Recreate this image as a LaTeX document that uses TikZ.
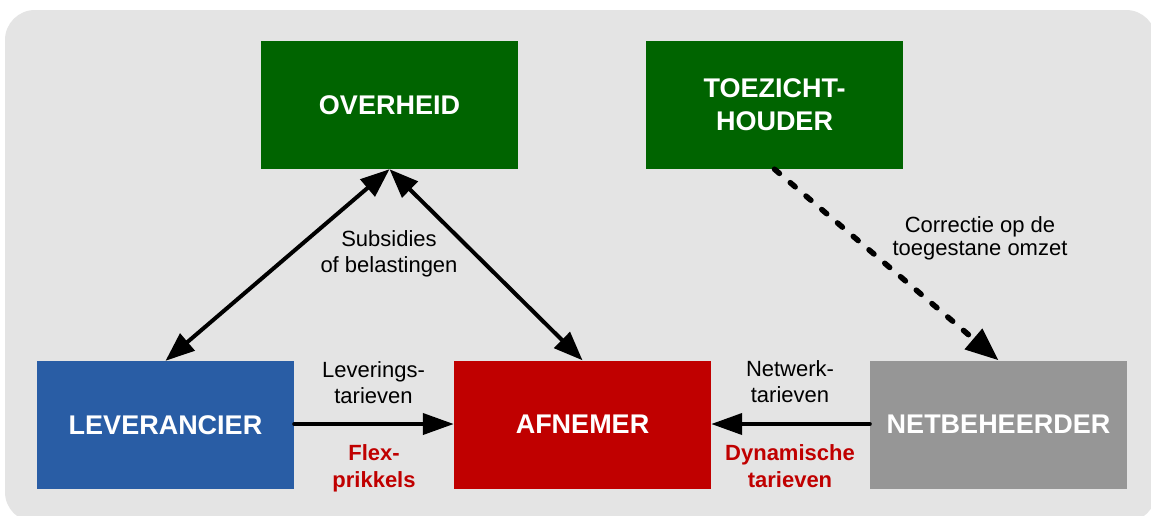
\documentclass[tikz,border=0pt]{standalone}
\usepackage{fontspec}
\setmainfont{Liberation Sans}
\usetikzlibrary{arrows.meta}
\definecolor{panelgray}{HTML}{E4E4E4}
\definecolor{govgreen}{HTML}{006400}
\definecolor{supblue}{HTML}{295DA5}
\definecolor{custred}{HTML}{C00000}
\definecolor{netgray}{HTML}{969696}
\tikzset{
  actor/.style={minimum width=257pt, minimum height=128pt, inner sep=0pt,
    text=white, align=center, font=\fontsize{27pt}{33pt}\selectfont\bfseries},
  lbl/.style={align=center, inner sep=0pt, text=black,
    font=\fontsize{22pt}{26pt}\selectfont},
  redlbl/.style={align=center, inner sep=0pt, text=custred,
    font=\fontsize{22pt}{27pt}\selectfont\bfseries},
  flow/.style={line width=4pt, line cap=round,
    -{Triangle[length=31pt,width=21pt]}},
  twoway/.style={line width=4pt,
    {Triangle[length=29pt,width=22pt]}-{Triangle[length=29pt,width=22pt]}},
  oversight/.style={line width=5.5pt, line cap=round,
    dash pattern=on 6.5pt off 14.2pt,
    -{Triangle[length=33pt,width=26pt]}}
}
\begin{document}
\begin{tikzpicture}[x=1pt, y=-1pt]
  \useasboundingbox (0,0) rectangle (1151,515);
  \fill[white] (0,0) rectangle (1151,515);
  \begin{scope}
    \clip (0,0) rectangle (1151,515);
    \fill[panelgray, rounded corners=30pt] (5,10) rectangle (1156,522);
  \end{scope}

  % actors
  \node[actor, fill=govgreen] (ovh) at (389.5,105) {OVERHEID};
  \node[actor, fill=govgreen] (toe) at (774.5,105) {TOEZICHT-\\HOUDER};
  \node[actor, fill=supblue]  (lev) at (165.5,425) {LEVERANCIER};
  \node[actor, fill=custred]  (afn) at (582.5,424.5) {AFNEMER};
  \node[actor, fill=netgray]  (net) at (998.5,424.5) {NETBEHEERDER};

  % connectors
  \draw[twoway] (lev.north) -- (ovh.south);
  \draw[twoway] (ovh.south) -- (afn.north);
  \draw[flow] (lev.east |- 0,424) -- (afn.west |- 0,424);
  \draw[flow] (net.west |- 0,424) -- (afn.east |- 0,424);
  \draw[oversight] (toe.south) -- (net.north);

  % labels
  \node[lbl] (lsub) at (389,253.8) {\strut Subsidies\\\strut of belastingen};
  \node[lbl] (llev) at (373.5,384.8) {\strut Leverings-\\\strut tarieven};
  \node[redlbl] (lflex) at (374,468.1) {\strut Flex-\\\strut prikkels};
  \node[lbl] (lnet) at (790,384.3) {\strut Netwerk-\\\strut tarieven};
  \node[redlbl] (ldyn) at (790,468.1) {\strut Dynamische\\\strut tarieven};
  \node[lbl, font=\fontsize{22pt}{23pt}\selectfont] (lcor) at (980,239)
    {\strut Correctie op de\\\strut toegestane omzet};
\end{tikzpicture}
\end{document}
